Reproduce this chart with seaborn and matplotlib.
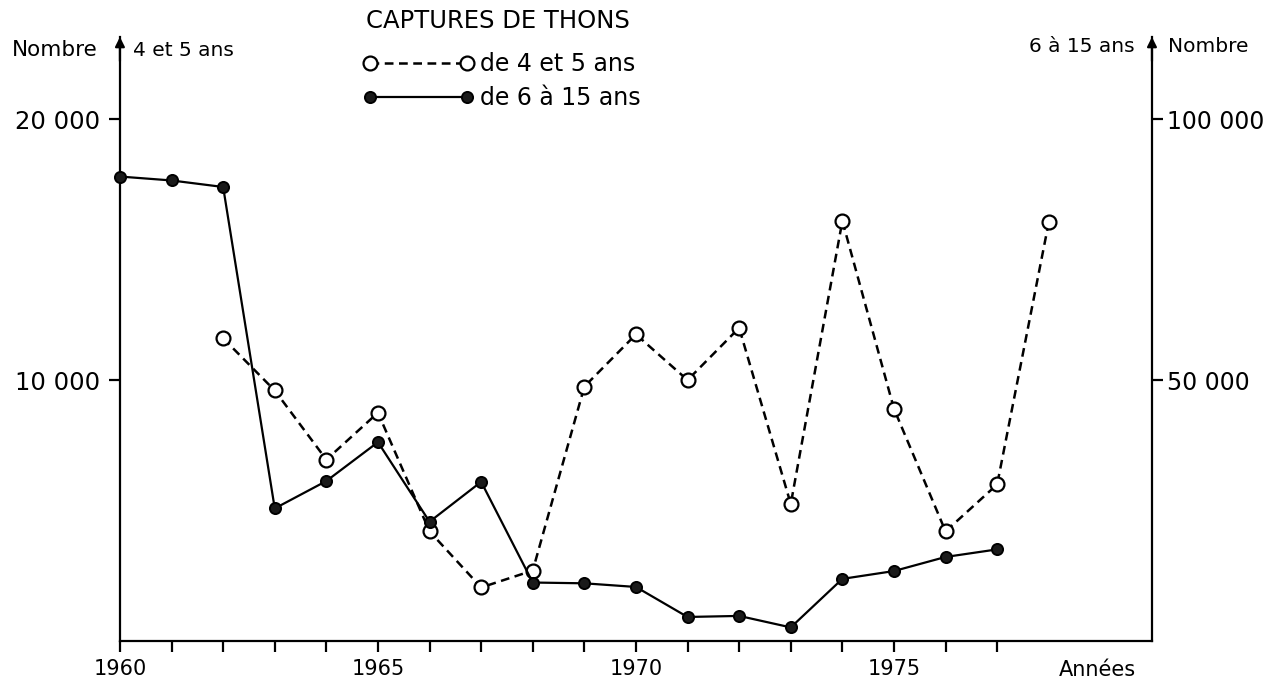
import matplotlib
matplotlib.use("Agg")
import matplotlib.pyplot as plt
import seaborn as sns
import pandas as pd

# ---- data ----
years_45 = [1962, 1963, 1964, 1965, 1966, 1967, 1968, 1969, 1970,
            1971, 1972, 1973, 1974, 1975, 1976, 1977, 1978]
catch_45 = [11600, 9600, 6950, 8750, 4200, 2050, 2700, 9750, 11750,
            10000, 12000, 5250, 16100, 8900, 4200, 6000, 16050]

years_615 = [1960, 1961, 1962, 1963, 1964, 1965, 1966, 1967, 1968,
             1969, 1970, 1971, 1972, 1973, 1974, 1975, 1976, 1977]
catch_615 = [89000, 88250, 87000, 25400, 30650, 38100, 22850, 30500, 11200,
             11050, 10350, 4600, 4800, 2600, 11900, 13400, 16100, 17550]

label_45 = "de 4 et 5 ans"
label_615 = "de 6 à 15 ans"
title = "CAPTURES DE THONS"

x_ticks = list(range(1960, 1978))
x_ticklabels = ["1960", "", "", "", "", "1965", "", "", "", "", "1970",
                "", "", "", "", "1975", "", ""]
left_ticks = [10000, 20000]
left_ticklabels = ["10 000", "20 000"]
right_ticks = [50000, 100000]
right_ticklabels = ["50 000", "100 000"]

df45 = pd.DataFrame({"annee": years_45, "nombre": catch_45})
df615 = pd.DataFrame({"annee": years_615, "nombre": catch_615})

# ---- style ----
sns.set_style("ticks")
plt.rcParams["font.family"] = ["DejaVu Sans"]
plt.rcParams["axes.linewidth"] = 1.6
for k in ("text.color", "axes.labelcolor", "xtick.color", "ytick.color",
          "axes.edgecolor"):
    plt.rcParams[k] = "black"

fig = plt.figure(figsize=(12.76, 6.87), dpi=100)
ax = fig.add_axes([0.094, 0.067, 0.8088, 0.8792])
ax2 = ax.twinx()

sns.lineplot(data=df45, x="annee", y="nombre", ax=ax, color="black",
             linewidth=1.8, marker="o", markersize=10, markerfacecolor="white",
             markeredgecolor="black", markeredgewidth=1.6, label=label_45,
             legend=False, clip_on=False)
ax.lines[-1].set_dashes((3.5, 2.2))

sns.lineplot(data=df615, x="annee", y="nombre", ax=ax2, color="black",
             linewidth=1.6, marker="o", markersize=8, markerfacecolor="#1a1a1a",
             markeredgecolor="black", markeredgewidth=1.4, label=label_615,
             legend=False, clip_on=False)

ax.set_xlim(1960, 1980)
ax.set_ylim(0, 23150)
ax2.set_ylim(0, 115750)

ax.set_xticks(x_ticks)
ax.set_xticklabels(x_ticklabels, fontsize=15)
ax.set_yticks(left_ticks)
ax.set_yticklabels(left_ticklabels, fontsize=17.5)
ax2.set_yticks(right_ticks)
ax2.set_yticklabels(right_ticklabels, fontsize=17)

ax.tick_params(axis="x", direction="out", length=8, width=1.6, pad=5)
ax.tick_params(axis="y", direction="out", length=8, width=1.6, pad=6)
ax2.tick_params(axis="y", direction="out", length=8, width=1.6, pad=3)

ax.set_xlabel("")
ax.set_ylabel("")
ax2.set_ylabel("")

for a in (ax, ax2):
    a.spines["top"].set_visible(False)
ax.spines["right"].set_visible(False)
ax2.spines["left"].set_visible(False)
ax2.spines["bottom"].set_visible(False)
ax2.spines["right"].set_linewidth(1.6)

# arrows on the vertical axes
for xpos in (0, 1):
    ax.annotate("", xy=(xpos, 1.0), xytext=(xpos, 0.96), xycoords="axes fraction",
                arrowprops=dict(arrowstyle="-|>", color="black", lw=1.6,
                                mutation_scale=14, shrinkA=0, shrinkB=0))

# axis annotations
fig.text(0.009, 1 - 50 / 687, "Nombre", fontsize=15.5, ha="left", va="center")
fig.text(133 / 1276, 1 - 50 / 687, "4 et 5 ans", fontsize=14.5, ha="left", va="center")
fig.text(1135 / 1276, 1 - 46 / 687, "6 à 15 ans", fontsize=14.5, ha="right", va="center")
fig.text(1168 / 1276, 1 - 46 / 687, "Nombre", fontsize=14.5, ha="left", va="center")
fig.text(1097 / 1276, 1 - 670 / 687, "Années", fontsize=15, ha="center", va="center")

# title + legend
fig.text(366 / 1276, 1 - 21 / 687, title, fontsize=17.5, ha="left", va="center")
h1, l1 = ax.get_legend_handles_labels()
h2, l2 = ax2.get_legend_handles_labels()
fig.legend(h1 + h2, l1 + l2, loc="upper left", bbox_to_anchor=(0.268, 0.955),
           fontsize=17, frameon=False,
           numpoints=2, handlelength=4.7, handletextpad=0.25, labelspacing=0.42,
           borderpad=0.4)

fig.savefig("out.png", dpi=100)
